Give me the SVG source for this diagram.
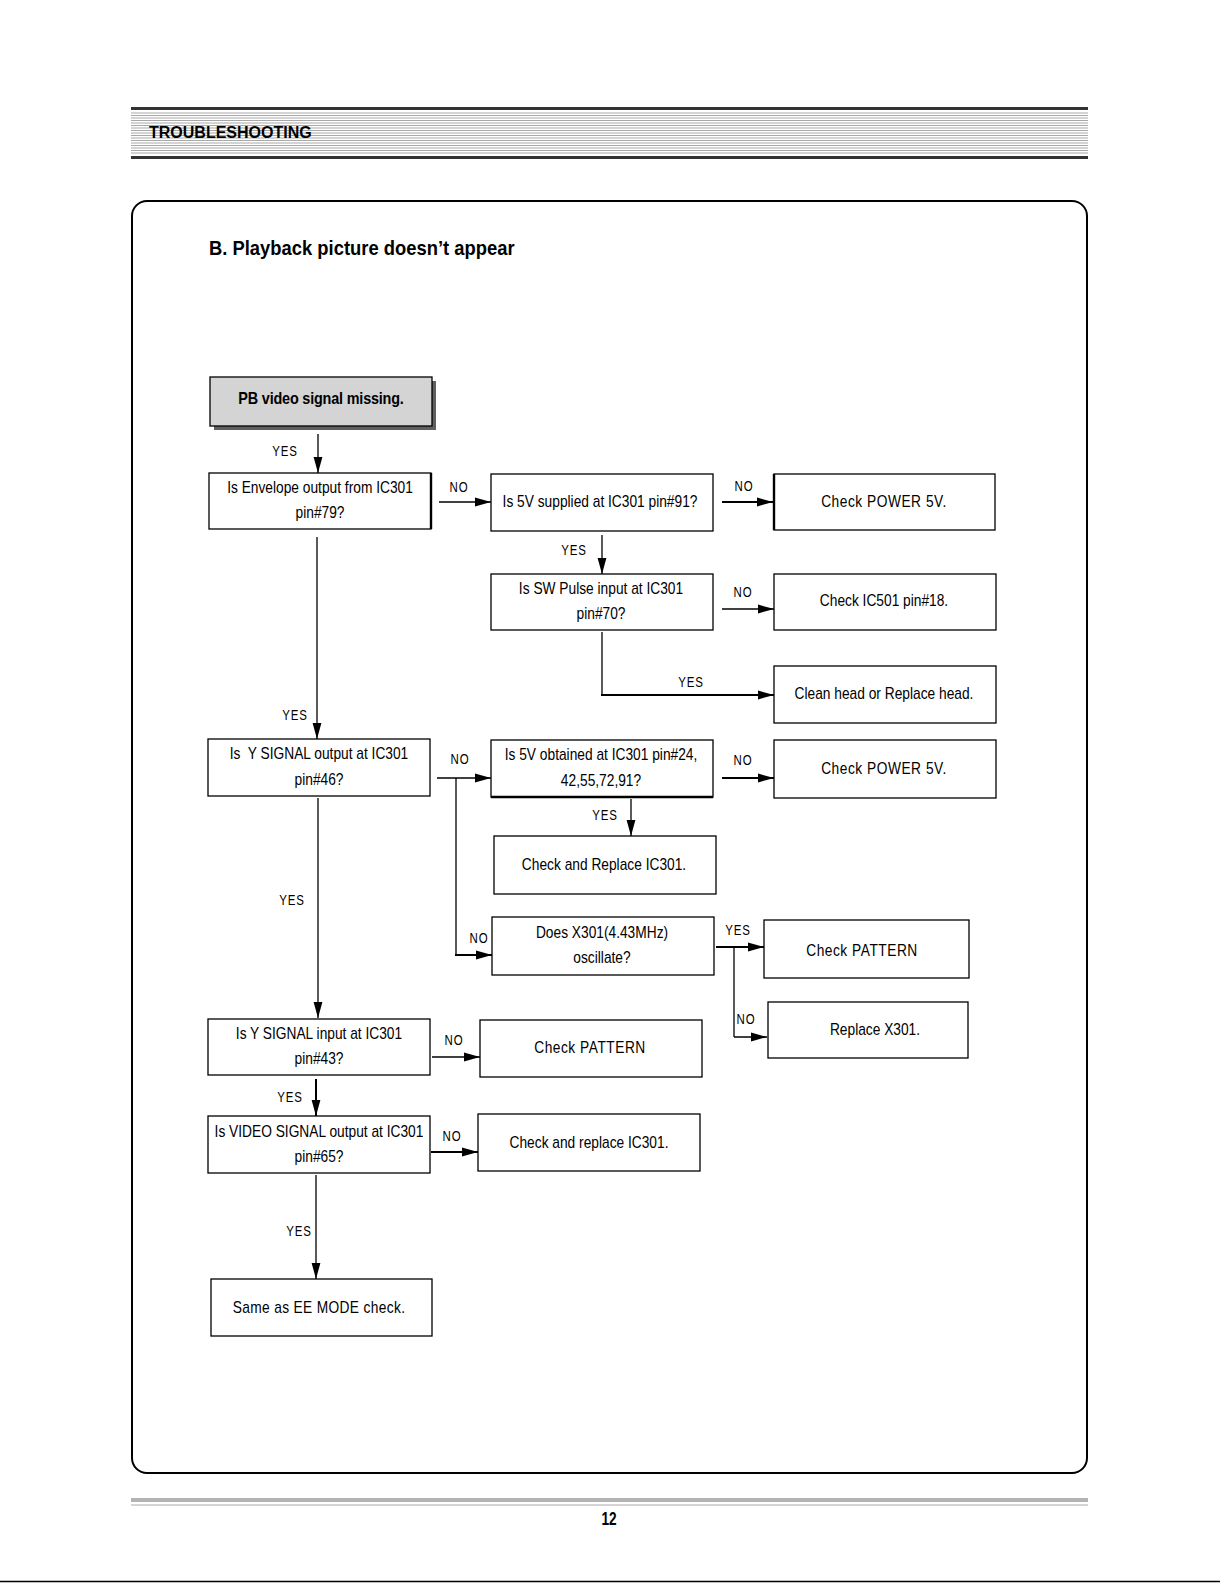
<svg xmlns="http://www.w3.org/2000/svg" width="1220" height="1583" viewBox="0 0 1220 1583">
<style>
.box{fill:#fff;stroke:#000;stroke-width:1.3}
.t{font-family:"Liberation Sans",Arial,sans-serif;font-size:16px;text-anchor:middle;fill:#000}
.lbl{font-family:"Liberation Sans",Arial,sans-serif;font-size:14px;text-anchor:middle;fill:#000;letter-spacing:1px}
.ln{stroke:#000;stroke-width:1.3;fill:none}
.thick{stroke-width:2}
.edge{stroke:#000;stroke-width:2.4}
.stripe{stroke:#a8a8a8;stroke-width:1}
</style>
<defs>
<marker id="ah" markerUnits="userSpaceOnUse" markerWidth="17" markerHeight="10" refX="16" refY="5" orient="auto">
<path d="M0,0.6 L16,5 L0,9.4 z" fill="#000"/>
</marker>
</defs>
<rect width="1220" height="1583" fill="#fff"/>
<g id="header">
<rect x="131" y="107" width="957" height="3" fill="#333"/>
<g class="stripe">
<line x1="131" y1="113" x2="1088" y2="113"/><line x1="131" y1="115.5" x2="1088" y2="115.5"/>
<line x1="131" y1="118" x2="1088" y2="118"/><line x1="131" y1="120.5" x2="1088" y2="120.5"/>
<line x1="131" y1="123" x2="1088" y2="123"/><line x1="131" y1="125.5" x2="1088" y2="125.5"/>
<line x1="131" y1="128" x2="1088" y2="128"/><line x1="131" y1="130.5" x2="1088" y2="130.5"/>
<line x1="131" y1="133" x2="1088" y2="133"/><line x1="131" y1="135.5" x2="1088" y2="135.5"/>
<line x1="131" y1="138" x2="1088" y2="138"/><line x1="131" y1="140.5" x2="1088" y2="140.5"/>
<line x1="131" y1="143" x2="1088" y2="143"/><line x1="131" y1="145.5" x2="1088" y2="145.5"/>
<line x1="131" y1="148" x2="1088" y2="148"/><line x1="131" y1="150.5" x2="1088" y2="150.5"/>
<line x1="131" y1="153" x2="1088" y2="153"/>
</g>
<rect x="131" y="156" width="957" height="3" fill="#333"/>
<text x="149" y="138" font-family="Liberation Sans,Arial,sans-serif" font-size="16" font-weight="bold">TROUBLESHOOTING</text>
</g>
<rect id="frame" x="132" y="201" width="955" height="1272" rx="15" fill="none" stroke="#000" stroke-width="2"/>
<text id="title" transform="translate(209,255) scale(0.92,1)" font-family="Liberation Sans,Arial,sans-serif" font-size="20" font-weight="bold">B. Playback picture doesn’t appear</text>

<g id="connectors">
<line class="ln" x1="318" y1="434" x2="318" y2="473" marker-end="url(#ah)"/>
<line class="ln" x1="439" y1="502" x2="491" y2="502" marker-end="url(#ah)"/>
<line class="ln thick" x1="722" y1="502" x2="773" y2="502" marker-end="url(#ah)"/>
<line class="ln" x1="602" y1="535" x2="602" y2="574" marker-end="url(#ah)"/>
<line class="ln" x1="722" y1="609" x2="774" y2="609" marker-end="url(#ah)"/>
<line class="ln" x1="602" y1="632" x2="602" y2="695"/>
<line class="ln thick" x1="601" y1="695" x2="774" y2="695" marker-end="url(#ah)"/>
<line class="ln" x1="317" y1="537" x2="317" y2="739" marker-end="url(#ah)"/>
<line class="ln" x1="437" y1="778" x2="491" y2="778" marker-end="url(#ah)"/>
<line class="ln" x1="456" y1="778" x2="456" y2="955"/>
<line class="ln thick" x1="455" y1="955" x2="492" y2="955" marker-end="url(#ah)"/>
<line class="ln thick" x1="722" y1="778" x2="774" y2="778" marker-end="url(#ah)"/>
<line class="ln" x1="631" y1="799" x2="631" y2="836" marker-end="url(#ah)"/>
<line class="ln" x1="318" y1="798" x2="318" y2="1018" marker-end="url(#ah)"/>
<line class="ln thick" x1="716" y1="947" x2="764" y2="947" marker-end="url(#ah)"/>
<line class="ln" x1="734" y1="947" x2="734" y2="1037"/>
<line class="ln" x1="734" y1="1037" x2="767" y2="1037" marker-end="url(#ah)"/>
<line class="ln" x1="432" y1="1057" x2="480" y2="1057" marker-end="url(#ah)"/>
<line class="ln thick" x1="316" y1="1079" x2="316" y2="1116" marker-end="url(#ah)"/>
<line class="ln thick" x1="431" y1="1152" x2="478" y2="1152" marker-end="url(#ah)"/>
<line class="ln" x1="316" y1="1175" x2="316" y2="1279" marker-end="url(#ah)"/>
<text class="lbl" transform="translate(285,456) scale(0.82,1)">YES</text>
<text class="lbl" transform="translate(459,492) scale(0.82,1)">NO</text>
<text class="lbl" transform="translate(744,491) scale(0.82,1)">NO</text>
<text class="lbl" transform="translate(574,555) scale(0.82,1)">YES</text>
<text class="lbl" transform="translate(743,597) scale(0.82,1)">NO</text>
<text class="lbl" transform="translate(691,687) scale(0.82,1)">YES</text>
<text class="lbl" transform="translate(295,720) scale(0.82,1)">YES</text>
<text class="lbl" transform="translate(460,764) scale(0.82,1)">NO</text>
<text class="lbl" transform="translate(743,765) scale(0.82,1)">NO</text>
<text class="lbl" transform="translate(605,820) scale(0.82,1)">YES</text>
<text class="lbl" transform="translate(292,905) scale(0.82,1)">YES</text>
<text class="lbl" transform="translate(479,943) scale(0.82,1)">NO</text>
<text class="lbl" transform="translate(738,935) scale(0.82,1)">YES</text>
<text class="lbl" transform="translate(746,1024) scale(0.82,1)">NO</text>
<text class="lbl" transform="translate(454,1045) scale(0.82,1)">NO</text>
<text class="lbl" transform="translate(290,1102) scale(0.82,1)">YES</text>
<text class="lbl" transform="translate(452,1141) scale(0.82,1)">NO</text>
<text class="lbl" transform="translate(299,1236) scale(0.82,1)">YES</text>
</g>

<g id="n1">
<rect x="214" y="381" width="222" height="49" fill="#606060"/>
<rect x="210" y="377" width="222" height="49" fill="#d4d4d4" stroke="#000" stroke-width="1.3"/>
<text class="t" transform="translate(321,404) scale(0.9,1)" font-size="15.5" font-weight="bold" letter-spacing="-0.2">PB video signal missing.</text>
</g>
<g id="n2"><rect class="box" x="209" y="473" width="222" height="56"/><line class="edge" x1="431" y1="473" x2="431" y2="529"/><text class="t" transform="translate(320,493) scale(0.86,1)">Is Envelope output from IC301</text><text class="t" transform="translate(320,518) scale(0.86,1)">pin#79?</text></g>
<g id="n3"><rect class="box" x="491" y="474" width="222" height="57"/><text class="t" transform="translate(600,507) scale(0.86,1)">Is 5V supplied at IC301 pin#91?</text></g>
<g id="n4"><rect class="box" x="774" y="474" width="221" height="56"/><line class="edge" x1="774" y1="474" x2="774" y2="530"/><text class="t" transform="translate(884,507) scale(0.86,1)" letter-spacing="0.6">Check POWER 5V.</text></g>
<g id="n5"><rect class="box" x="491" y="574" width="222" height="56"/><text class="t" transform="translate(601,594) scale(0.86,1)">Is SW Pulse input at IC301</text><text class="t" transform="translate(601,619) scale(0.86,1)">pin#70?</text></g>
<g id="n6"><rect class="box" x="774" y="574" width="222" height="56"/><text class="t" transform="translate(884,606) scale(0.86,1)">Check IC501 pin#18.</text></g>
<g id="n7"><rect class="box" x="774" y="666" width="222" height="57"/><text class="t" transform="translate(884,699) scale(0.86,1)">Clean head or Replace head.</text></g>
<g id="n8"><rect class="box" x="208" y="739" width="222" height="57"/><text class="t" transform="translate(319,759) scale(0.86,1)" xml:space="preserve">Is  Y SIGNAL output at IC301</text><text class="t" transform="translate(319,785) scale(0.86,1)">pin#46?</text></g>
<g id="n9"><rect class="box" x="491" y="740" width="222" height="57"/><line class="edge" x1="491" y1="797" x2="713" y2="797"/><text class="t" transform="translate(601,760) scale(0.86,1)">Is 5V obtained at IC301 pin#24,</text><text class="t" transform="translate(601,786) scale(0.86,1)">42,55,72,91?</text></g>
<g id="n10"><rect class="box" x="774" y="740" width="222" height="58"/><text class="t" transform="translate(884,774) scale(0.86,1)" letter-spacing="0.6">Check POWER 5V.</text></g>
<g id="n11"><rect class="box" x="494" y="836" width="222" height="58"/><text class="t" transform="translate(604,870) scale(0.86,1)">Check and Replace IC301.</text></g>
<g id="n12"><rect class="box" x="492" y="917" width="222" height="58"/><text class="t" transform="translate(602,938) scale(0.86,1)">Does X301(4.43MHz)</text><text class="t" transform="translate(602,963) scale(0.86,1)">oscillate?</text></g>
<g id="n13"><rect class="box" x="764" y="920" width="205" height="58"/><text class="t" transform="translate(862,956) scale(0.86,1)" letter-spacing="0.6">Check PATTERN</text></g>
<g id="n14"><rect class="box" x="768" y="1002" width="200" height="56"/><text class="t" transform="translate(875,1035) scale(0.86,1)">Replace X301.</text></g>
<g id="n15"><rect class="box" x="208" y="1019" width="222" height="56"/><text class="t" transform="translate(319,1039) scale(0.86,1)">Is Y SIGNAL input at IC301</text><text class="t" transform="translate(319,1064) scale(0.86,1)">pin#43?</text></g>
<g id="n16"><rect class="box" x="480" y="1020" width="222" height="57"/><text class="t" transform="translate(590,1053) scale(0.86,1)" letter-spacing="0.6">Check PATTERN</text></g>
<g id="n17"><rect class="box" x="208" y="1116" width="222" height="57"/><text class="t" transform="translate(319,1137) scale(0.86,1)">Is VIDEO SIGNAL output at IC301</text><text class="t" transform="translate(319,1162) scale(0.86,1)">pin#65?</text></g>
<g id="n18"><rect class="box" x="478" y="1114" width="222" height="57"/><text class="t" transform="translate(589,1148) scale(0.86,1)">Check and replace IC301.</text></g>
<g id="n19"><rect class="box" x="211" y="1279" width="221" height="57"/><text class="t" transform="translate(319,1313) scale(0.86,1)" letter-spacing="0.4">Same as EE MODE check.</text></g>

<g id="footer">
<rect x="131" y="1498" width="957" height="4" fill="#b3b3b3"/>
<line x1="131" y1="1505" x2="1088" y2="1505" stroke="#aaa" stroke-width="1"/>
<text transform="translate(609,1525) scale(0.72,1)" font-family="Liberation Sans,Arial,sans-serif" font-size="19" font-weight="bold" text-anchor="middle">12</text>
<line x1="0" y1="1581.5" x2="1220" y2="1581.5" stroke="#000" stroke-width="1.5"/>
</g>
</svg>
